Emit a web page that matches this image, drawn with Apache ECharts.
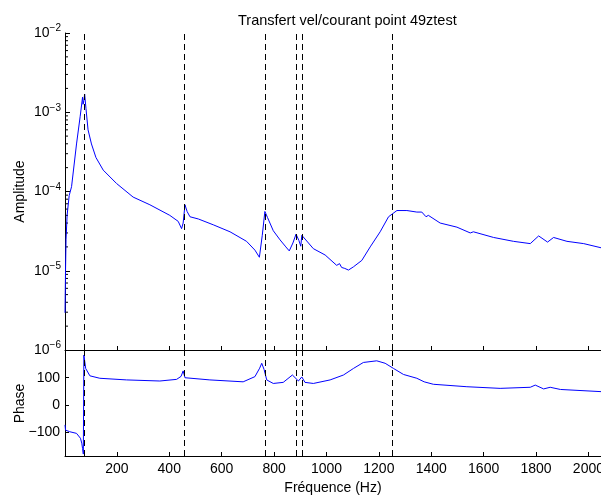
<!DOCTYPE html>
<html>
<head>
<meta charset="utf-8">
<script src="https://cdn.jsdelivr.net/npm/echarts@6/dist/echarts.min.js"></script>
<style>
    html, body { margin: 0; padding: 0; background: #fff; }
    #chart { width: 601px; height: 502px; }
</style>
</head>
<body>
<div id="chart"></div>
<script>
// amplitude curve (Hz, amplitude)
const ampFreq = [2, 4, 6, 10, 18, 27, 46, 60, 69, 71, 74, 77, 82, 90, 103, 120, 148, 199, 262, 326,
    402, 434, 447, 453, 460, 468, 479, 511, 568, 632, 695, 727, 744, 755, 765, 775, 797, 823, 845, 858,
    872, 884, 895, 902, 906, 912, 950, 995, 1039, 1050, 1058, 1070, 1084, 1103, 1135, 1167, 1205, 1237, 1269, 1307,
    1345, 1364, 1380, 1389, 1434, 1498, 1549, 1561, 1638, 1714, 1778, 1810, 1844, 1867, 1918, 1982, 2048];
const ampValues = [2.95e-6, 1.0e-5, 2.5e-5, 5.0e-5, 8.9e-5, 1.15e-4, 3.98e-4, 8.9e-4, 1.55e-3, 1.26e-3, 1.41e-3, 1.70e-3, 1.12e-3, 6.0e-4, 3.98e-4, 2.69e-4, 1.86e-4, 1.26e-4, 8.5e-5, 6.8e-5,
    5.0e-5, 4.2e-5, 3.4e-5, 4.0e-5, 6.8e-5, 5.6e-5, 4.8e-5, 4.5e-5, 3.8e-5, 3.1e-5, 2.35e-5, 1.82e-5, 1.48e-5, 2.8e-5, 5.6e-5, 4.7e-5, 3.2e-5, 2.45e-5, 2.0e-5, 1.78e-5,
    2.24e-5, 2.9e-5, 2.4e-5, 2.04e-5, 2.8e-5, 2.75e-5, 1.9e-5, 1.58e-5, 1.17e-5, 1.23e-5, 1.10e-5, 1.07e-5, 1.02e-5, 1.12e-5, 1.35e-5, 2.0e-5, 3.1e-5, 4.8e-5, 5.75e-5, 5.75e-5,
    5.5e-5, 5.5e-5, 4.8e-5, 5.0e-5, 4.0e-5, 3.55e-5, 3.0e-5, 3.1e-5, 2.63e-5, 2.35e-5, 2.2e-5, 2.75e-5, 2.3e-5, 2.63e-5, 2.35e-5, 2.2e-5, 1.95e-5];

// phase curve (Hz, degrees)
const phaseFreq = [2, 4, 20, 46, 61, 66, 69, 72, 74, 81, 97, 135, 237, 364, 428, 445, 453, 460, 466, 555,
    682, 727, 745, 753, 762, 772, 797, 835, 870, 893, 906, 918, 950, 1014, 1065, 1103, 1141, 1192, 1224, 1256,
    1294, 1345, 1373, 1408, 1536, 1663, 1778, 1797, 1829, 1854, 1893, 2048];
const phaseValues = [-73, -92, -98, -104, -122, -140, -159, -180, 183, 134, 107, 98, 92, 88, 94, 105, 125, 100, 94, 92,
    85, 104, 135, 153, 130, 92, 79, 83, 110, 88, 103, 83, 79, 92, 110, 134, 156, 162, 153, 134,
    112, 98, 85, 76, 67, 61, 65, 73, 59, 65, 57, 49];

// dashed markers (Hz)
const modeFreqs = [75, 457, 765, 884, 909, 1253];

const xTicks = [200, 400, 600, 800, 1000, 1200, 1400, 1600, 1800, 2000];
const phaseTicks = [-100, 0, 100];
const ampMinorTicks = [];
[1e-6, 1e-5, 1e-4, 1e-3].forEach(d => {
    for (let k = 2; k <= 9; k++) ampMinorTicks.push(k * d);
});

const xMin = 2, xMax = 2048;
const font = 'Liberation Sans, Arial, sans-serif';
const fs = 14;

const markLine = {
    silent: true,
    symbol: ['none', 'none'],
    label: { show: false },
    lineStyle: { color: '#000', type: [6, 4], width: 1 },
    data: modeFreqs.map(v => ({ xAxis: v }))
};

const charts = echarts.init(document.getElementById('chart'));
charts.setOption({
    backgroundColor: '#fff',
    animation: false,
    textStyle: { fontFamily: font },
    title: {
        text: 'Transfert vel/courant point 49ztest',
        left: 233,
        top: 8,
        textStyle: { fontFamily: font, fontSize: 14.5, fontWeight: 'normal', color: '#000' }
    },
    grid: [
        { left: 65, right: 0, top: 33, height: 317, outerBoundsMode: 'none', containLabel: false },
        { left: 65, right: 0, top: 351, height: 105, outerBoundsMode: 'none', containLabel: false }
    ],
    xAxis: [
        {
            type: 'value', gridIndex: 0, min: xMin, max: xMax,
            axisLine: { onZero: false, lineStyle: { color: '#000' } },
            axisTick: { inside: true, length: 4, customValues: xTicks, lineStyle: { color: '#000' } },
            axisLabel: { show: false },
            splitLine: { show: false }
        },
        {
            type: 'value', gridIndex: 1, min: xMin, max: xMax,
            name: 'Fréquence (Hz)', nameLocation: 'middle', nameGap: 25,
            nameTextStyle: { fontFamily: font, fontSize: fs, color: '#000' },
            axisLine: { onZero: false, lineStyle: { color: '#000' } },
            axisTick: { inside: true, length: 4, customValues: xTicks, lineStyle: { color: '#000' } },
            axisLabel: {
                customValues: xTicks, color: '#000', fontSize: fs, margin: 6, fontFamily: font,
                formatter: v => String(v)
            },
            splitLine: { show: false }
        }
    ],
    yAxis: [
        {
            type: 'log', gridIndex: 0, logBase: 10, min: 1e-6, max: 1e-2,
            name: 'Amplitude', nameLocation: 'middle', nameGap: 38, nameMoveOverlap: false,
            nameTextStyle: { fontFamily: font, fontSize: fs, color: '#000' },
            axisLine: { show: true, onZero: false, lineStyle: { color: '#000' } },
            axisTick: { inside: true, length: 5, lineStyle: { color: '#000' } },
            axisLabel: {
                margin: 4,
                formatter: v => '{b|10}{e|−' + Math.round(-Math.log10(v)) + '}',
                rich: {
                    b: { fontSize: fs, color: '#000', fontFamily: font },
                    e: { fontSize: 10, color: '#000', fontFamily: font, padding: [0, 0, 9, 0] }
                }
            },
            splitLine: { show: false }
        },
        {
            type: 'value', gridIndex: 1, min: -187, max: 198,
            name: 'Phase', nameLocation: 'middle', nameGap: 38, nameMoveOverlap: false,
            nameTextStyle: { fontFamily: font, fontSize: fs, color: '#000' },
            axisLine: { show: true, onZero: false, lineStyle: { color: '#000' } },
            axisTick: { inside: true, length: 4, customValues: phaseTicks, lineStyle: { color: '#000' } },
            axisLabel: {
                customValues: phaseTicks, color: '#000', fontSize: fs, margin: 5, fontFamily: font,
                formatter: v => String(v).replace('-', '−')
            },
            splitLine: { show: false }
        }
    ],
    series: [
        {
            type: 'line', xAxisIndex: 0, yAxisIndex: 0,
            data: ampFreq.map((f, i) => [f, ampValues[i]]),
            showSymbol: false, smooth: false,
            lineStyle: { color: '#0000ff', width: 1 },
            itemStyle: { color: '#0000ff' },
            markLine: markLine
        },
        {
            type: 'line', xAxisIndex: 1, yAxisIndex: 1,
            data: phaseFreq.map((f, i) => [f, phaseValues[i]]),
            showSymbol: false, smooth: false,
            lineStyle: { color: '#0000ff', width: 1 },
            itemStyle: { color: '#0000ff' },
            markLine: markLine
        },
        {
            // minor log ticks on the amplitude axis
            type: 'custom', xAxisIndex: 0, yAxisIndex: 0, silent: true,
            data: ampMinorTicks.map(v => [xMin, v]),
            renderItem: (params, api) => {
                const p = api.coord([api.value(0), api.value(1)]);
                return {
                    type: 'line',
                    shape: { x1: p[0], y1: p[1], x2: p[0] + 3, y2: p[1] },
                    style: { stroke: '#000', lineWidth: 1 }
                };
            }
        }
    ]
});
</script>
</body>
</html>
